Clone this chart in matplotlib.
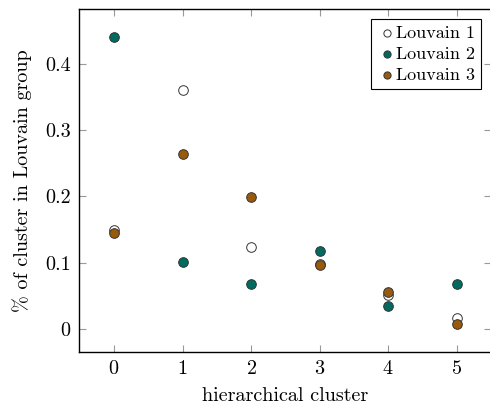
import matplotlib.pyplot as plt

clusters = [0, 1, 2, 3, 4, 5]
louvain_1 = [0.149, 0.360, 0.124, 0.098, 0.051, 0.016]
louvain_2 = [0.441, 0.101, 0.068, 0.118, 0.034, 0.068]
louvain_3 = [0.144, 0.264, 0.199, 0.097, 0.056, 0.008]
labels = ['Louvain 1', 'Louvain 2', 'Louvain 3']

plt.rcParams['font.family'] = 'serif'
plt.rcParams['font.serif'] = ['cmr10']
plt.rcParams['mathtext.fontset'] = 'cm'
plt.rcParams['axes.formatter.use_mathtext'] = True

fig = plt.figure(figsize=(4.9, 4.08), dpi=100)
ax = fig.add_axes([79 / 490, 56 / 408, 412 / 490, 343 / 408])

colors = ['white', '#006b5e', '#995a0c']
for vals, lab, col in zip([louvain_1, louvain_2, louvain_3], labels, colors):
    ax.scatter(clusters, vals, s=48, c=col, edgecolors='#333333',
               linewidths=0.7, label=lab, zorder=3)

ax.set_xlim(-0.51, 5.5)
ax.set_ylim(-0.035, 0.483)
ax.set_xticks(clusters)
ax.set_yticks([0, 0.1, 0.2, 0.3, 0.4])
ax.set_yticklabels(['0', '0.1', '0.2', '0.3', '0.4'])
ax.tick_params(direction='in', length=5, color='#999999', labelsize=14.5,
               top=True, right=True, width=0.8, pad=6)
for sp in ax.spines.values():
    sp.set_linewidth(1.0)

ax.set_xlabel('hierarchical cluster', fontsize=14.5, labelpad=6)
ax.set_ylabel('% of cluster in Louvain group', fontsize=14.5, labelpad=9)

leg = ax.legend(loc='upper right', fontsize=13, frameon=True, fancybox=False,
                edgecolor='black', framealpha=1, handletextpad=0.0,
                borderpad=0.35, labelspacing=0.3, handlelength=1.0,
                borderaxespad=0.55, markerscale=0.75)
leg.get_frame().set_linewidth(0.8)

fig.savefig('out.png', dpi=100)
